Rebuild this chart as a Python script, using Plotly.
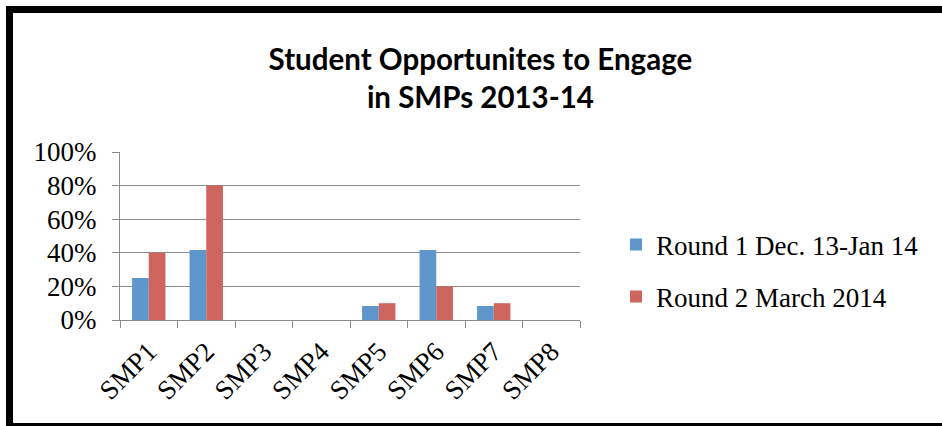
import plotly.graph_objects as go

# Share of observed lessons offering each Standard for Mathematical Practice
categories = ["SMP1", "SMP2", "SMP3", "SMP4", "SMP5", "SMP6", "SMP7", "SMP8"]
round1_name = "Round 1 Dec. 13-Jan 14"
round2_name = "Round 2 March 2014"
round1_values = [3 / 12, 5 / 12, 0, 0, 1 / 12, 5 / 12, 1 / 12, 0]
round2_values = [0.4, 0.8, 0, 0, 0.1, 0.2, 0.1, 0]
y_ticks = [0, 0.2, 0.4, 0.6, 0.8, 1.0]
y_tick_labels = ["0%", "20%", "40%", "60%", "80%", "100%"]

W, H = 942, 426
ML, MR, MT, MB = 120, 362, 152, 106
PW, PH = W - ML - MR, H - MT - MB

BLUE = "#5F96CB"
RED = "#CF655F"
GRID = "#8C8C8C"
SERIF = "Liberation Serif"


def px_x(p):
    return (p - ML) / PW


def px_y(p):
    return (H - MB - p) / PH


fig = go.Figure()
fig.add_trace(go.Bar(
    x=categories, y=round1_values, name=round1_name,
    marker=dict(color=BLUE, line=dict(width=0)), legend="legend",
))
fig.add_trace(go.Bar(
    x=categories, y=round2_values, name=round2_name,
    marker=dict(color=RED, line=dict(width=0)), legend="legend2",
))

legend_common = dict(
    font=dict(family=SERIF, size=27, color="#000000"),
    bgcolor="rgba(0,0,0,0)", borderwidth=0,
    xref="container", yref="container",
    xanchor="left", yanchor="middle",
)

fig.update_layout(
    width=W, height=H,
    margin=dict(l=ML, r=MR, t=MT, b=MB),
    paper_bgcolor="white", plot_bgcolor="white",
    barmode="group", bargap=0.42, bargroupgap=0,
    title=dict(
        text="Student Opportunites to Engage<br>in SMPs 2013-14",
        font=dict(family="Lato", size=29.5, color="#000000", weight="bold"),
        x=0.51, xanchor="center", xref="container",
        y=(H - 70) / H, yanchor="middle", yref="container",
    ),
    showlegend=True,
    legend=dict(x=616 / W, y=(H - 245) / H, **legend_common),
    legend2=dict(x=616 / W, y=(H - 297) / H, **legend_common),
    xaxis=dict(
        showgrid=False, showline=True, linecolor=GRID, linewidth=1,
        ticks="outside", ticklen=7, tickcolor=GRID, tickson="boundaries",
        tickangle=-45, ticklabelstandoff=4,
        tickfont=dict(family=SERIF, size=27, color="#000000"),
        fixedrange=True,
    ),
    yaxis=dict(
        range=[0, 1], tickvals=y_ticks, ticktext=y_tick_labels,
        showgrid=True, gridcolor=GRID, gridwidth=1,
        showline=True, linecolor=GRID, linewidth=1,
        ticks="outside", ticklen=7, tickcolor=GRID, ticklabelstandoff=10,
        tickfont=dict(family=SERIF, size=27, color="#000000"),
        zeroline=False, fixedrange=True,
    ),
)

# Black frame around the chart (top, left and bottom edges)
frame = [
    dict(x0=px_x(6), x1=px_x(W + 5), y0=px_y(9.5), y1=px_y(9.5), w=7),
    dict(x0=px_x(9.5), x1=px_x(9.5), y0=px_y(6), y1=px_y(H + 5), w=7),
    dict(x0=px_x(9), x1=px_x(W + 5), y0=px_y(424.5), y1=px_y(424.5), w=3),
]
for s in frame:
    fig.add_shape(
        type="line", xref="paper", yref="paper",
        x0=s["x0"], x1=s["x1"], y0=s["y0"], y1=s["y1"],
        line=dict(color="#000000", width=s["w"]), layer="above",
    )

fig.write_html("out.html")
